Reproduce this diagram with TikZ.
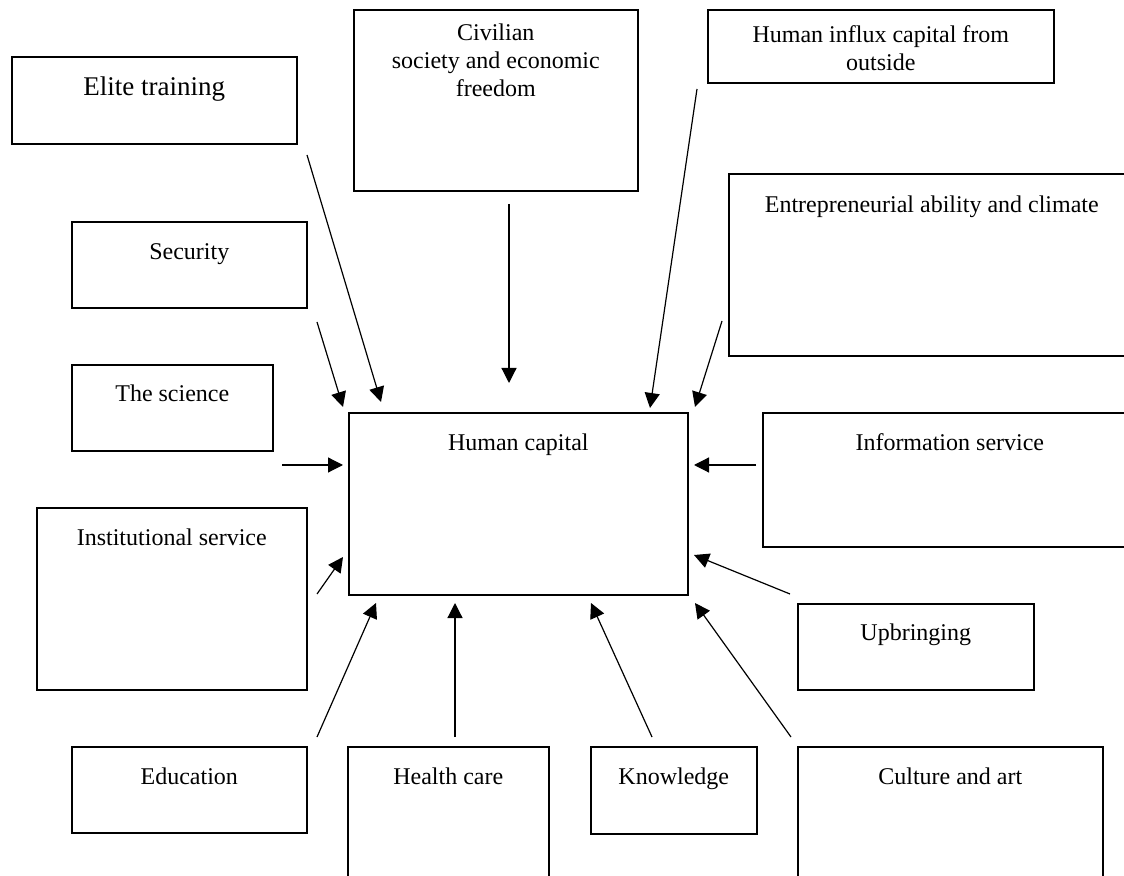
\documentclass[tikz,border=0pt]{standalone}
\usepackage{fontspec}
\setmainfont{Liberation Serif}
\usetikzlibrary{arrows.meta}

\begin{document}
\begin{tikzpicture}[x=0.5pt,y=-0.5pt,
	box/.style={draw,line width=0.8pt,anchor=north west,inner sep=0pt},
	tag/.style={anchor=north,inner sep=0pt,yshift=-#1,align=center,font=\fontsize{12}{14}\selectfont},
	tag/.default=10.5pt,
	arr/.style={-{Triangle[length=7.5pt,width=7.5pt]},line width=0.6pt}]
	\useasboundingbox (0,0) rectangle (1124,876);
	
	%CENTRE
	\node[box,minimum width=169.5pt,minimum height=91pt,label={[tag]north:Human capital}] (hc) at (348,412) {};
	
	%TOP ROW
	\node[box,minimum width=142.5pt,minimum height=43.5pt,label={[tag=10pt,font=\fontsize{13.5}{16}\selectfont]north:Elite training}] (elite) at (11,56) {};
	\node[box,minimum width=142pt,minimum height=90.5pt,label={[tag=7pt]north:Civilian\\society and economic\\freedom}] (civil) at (353,9) {};
	\node[box,minimum width=173pt,minimum height=36.5pt,label={[tag=8pt]north:Human influx capital from\\outside}] (influx) at (707,9) {};
	\node[box,minimum width=203pt,minimum height=91pt,label={[tag=11pt]north:Entrepreneurial ability and climate}] (entre) at (728,173) {};
	
	%LEFT SIDE
	\node[box,minimum width=117.5pt,minimum height=43pt,label={[tag=11pt]north:Security}] (secur) at (71,221) {};
	\node[box,minimum width=100.5pt,minimum height=43pt,label={[tag=10pt]north:The science}] (scien) at (71,364) {};
	\node[box,minimum width=135pt,minimum height=91pt,label={[tag]north:Institutional service}] (instit) at (36,507) {};
	
	%RIGHT SIDE
	\node[box,minimum width=187pt,minimum height=67pt,label={[tag]north:Information service}] (info) at (762,412) {};
	\node[box,minimum width=118pt,minimum height=43pt,label={[tag=10pt]north:Upbringing}] (upbr) at (797,603) {};
	
	%BOTTOM ROW
	\node[box,minimum width=117.5pt,minimum height=43pt,label={[tag]north:Education}] (edu) at (71,746) {};
	\node[box,minimum width=100.5pt,minimum height=70pt,label={[tag]north:Health care}] (health) at (347,746) {};
	\node[box,minimum width=83pt,minimum height=43.5pt,label={[tag]north:Knowledge}] (know) at (590,746) {};
	\node[box,minimum width=152.5pt,minimum height=70pt,label={[tag]north:Culture and art}] (cult) at (797,746) {};
	
	%ARROW ENDS
	\coordinate (elite-a) at (307,155);  \coordinate (elite-b) at (381,402);
	\coordinate (civil-a) at (509,204);  \coordinate (civil-b) at (509,383);
	\coordinate (influx-a) at (697,89);  \coordinate (influx-b) at (650,408);
	\coordinate (entre-a) at (722,321);  \coordinate (entre-b) at (695,407);
	\coordinate (secur-a) at (317,322);  \coordinate (secur-b) at (343,407);
	\coordinate (scien-a) at (282,465);  \coordinate (scien-b) at (343,465);
	\coordinate (info-a) at (756,465);   \coordinate (info-b) at (694,465);
	\coordinate (instit-a) at (317,594); \coordinate (instit-b) at (343,557);
	\coordinate (upbr-a) at (790,594);   \coordinate (upbr-b) at (694,555);
	\coordinate (edu-a) at (317,737);    \coordinate (edu-b) at (376,603);
	\coordinate (health-a) at (455,737); \coordinate (health-b) at (455,603);
	\coordinate (know-a) at (652,737);   \coordinate (know-b) at (591,603);
	\coordinate (cult-a) at (791,737);   \coordinate (cult-b) at (695,603);
	
	%ARROWS
	\foreach \s in {elite,civil,influx,entre,secur,scien,info,instit,upbr,edu,health,know,cult}
		\draw[arr] (\s-a) -- (\s-b);
	
\end{tikzpicture}
\end{document}
